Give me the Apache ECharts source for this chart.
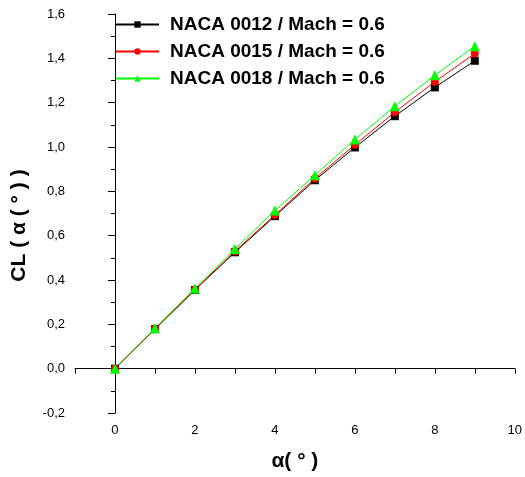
<!DOCTYPE html>
<html>
<head>
<meta charset="utf-8">
<script src="https://cdn.jsdelivr.net/npm/echarts@6/dist/echarts.min.js"></script>
<style>html,body{margin:0;padding:0;background:#fff}#c{width:525px;height:477px}</style>
</head>
<body>
<div id="c"></div>
<script>
var alpha = [0, 1, 2, 3, 4, 5, 6, 7, 8, 9];
var naca0012 = [0, 0.178, 0.355, 0.525, 0.688, 0.850, 0.998, 1.139, 1.269, 1.389];
var naca0015 = [0, 0.180, 0.357, 0.530, 0.693, 0.858, 1.010, 1.157, 1.294, 1.422];
var naca0018 = [0, 0.182, 0.362, 0.540, 0.713, 0.873, 1.034, 1.184, 1.324, 1.455];
var seriesNames = ['NACA 0012 / Mach = 0.6', 'NACA 0015 / Mach = 0.6', 'NACA 0018 / Mach = 0.6'];

function pairs(ys) { return alpha.map(function (x, i) { return [x, ys[i]]; }); }

var chart = echarts.init(document.getElementById('c'), null, {renderer: 'canvas'});
var font = 'Arial, "Liberation Sans", sans-serif';
chart.setOption({
  animation: false,
  backgroundColor: '#fff',
  grid: {left: 75, right: 9, top: 14, bottom: 64, containLabel: false},
  legend: {
    orient: 'vertical', left: 110, top: 10,
    itemWidth: 43, itemHeight: 8, itemGap: 8,
    textStyle: {fontFamily: font, fontSize: 19, fontWeight: 'bold', color: '#000', padding: [0, 0, 0, 6]},
    data: seriesNames
  },
  xAxis: {
    type: 'value', min: -1, max: 10, interval: 1,
    name: 'α( ° )', nameLocation: 'middle', nameGap: 38,
    nameTextStyle: {fontFamily: font, fontSize: 21, fontWeight: 'bold', color: '#000'},
    axisLine: {show: true, lineStyle: {color: '#000', width: 1}},
    axisTick: {show: true, inside: false, length: 5, lineStyle: {color: '#000'}},
    axisLabel: {
      fontFamily: font, fontSize: 13, color: '#000', margin: 11,
      formatter: function (v) { return (v % 2 === 0) ? String(v) : ''; }
    },
    splitLine: {show: false}
  },
  yAxis: {
    type: 'value', min: -0.2, max: 1.6, interval: 0.2,
    name: 'CL ( α ( ° ) )', nameLocation: 'middle', nameGap: 45, nameRotate: 90,
    nameTextStyle: {fontFamily: font, fontSize: 21, fontWeight: 'bold', color: '#000', padding: [0, 24, 0, 0]},
    axisLine: {show: true, lineStyle: {color: '#000', width: 1}},
    axisTick: {show: true, inside: false, length: 7, lineStyle: {color: '#000'}},
    minorTick: {show: true, splitNumber: 2, length: 4, lineStyle: {color: '#000'}},
    axisLabel: {
      fontFamily: font, fontSize: 13, color: '#000', margin: 10,
      formatter: function (v) { return v.toFixed(1).replace('.', ','); }
    },
    splitLine: {show: false}
  },
  series: [
    {name: seriesNames[0], type: 'line', data: pairs(naca0012), symbol: 'rect', symbolSize: 8,
     lineStyle: {color: '#000', width: 1}, itemStyle: {color: '#000'}},
    {name: seriesNames[1], type: 'line', data: pairs(naca0015), symbol: 'circle', symbolSize: 8,
     lineStyle: {color: '#ff0000', width: 1}, itemStyle: {color: '#ff0000'}},
    {name: seriesNames[2], type: 'line', data: pairs(naca0018), symbol: 'triangle', symbolSize: 10,
     lineStyle: {color: '#00ff00', width: 1}, itemStyle: {color: '#00ff00'}}
  ]
});
</script>
</body>
</html>
